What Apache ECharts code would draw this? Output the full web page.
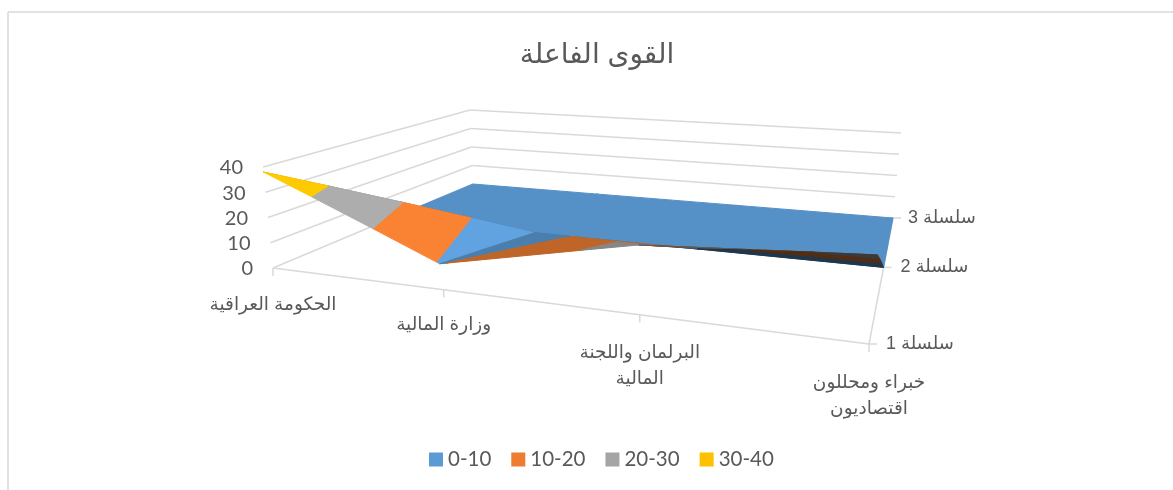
<!DOCTYPE html>
<html>
<head>
<meta charset="utf-8">
<style>
  html, body { margin: 0; background: #fff; }
  #chart { width: 1173px; height: 490px; }
</style>
<script src="https://cdn.jsdelivr.net/npm/echarts@6/dist/echarts.min.js"></script>
</head>
<body>
<div id="chart"></div>
<script>
const categories = ['الحكومة العراقية', 'وزارة المالية', 'البرلمان واللجنة\nالمالية', 'خبراء ومحللون\nاقتصاديون']
const seriesNames = ['سلسلة 1', 'سلسلة 2', 'سلسلة 3']
const series1 = [38, 9.5, 24, 28.5]
const series2 = [0, 0, 0, 0]
const series3 = [0, 0, 0, 0]
const rows = [series1, series2, series3]
const valueTicks = [0, 10, 20, 30, 40]
const bands = ['0-10', '10-20', '20-30', '30-40']
const bandColors = ['#5b9bd5', '#ed7d31', '#a5a5a5', '#ffc000']
const valueMax = 40

// surface triangles as [row, category] triples, painted in this order, with a light factor
const facets = [
  { v: [[1, 0], [2, 0], [2, 1]], shade: 0.93 },
  { v: [[1, 0], [2, 1], [1, 1]], shade: 0.93 },
  { v: [[1, 1], [2, 1], [2, 2]], shade: 0.93 },
  { v: [[1, 1], [2, 2], [1, 2]], shade: 0.93 },
  { v: [[1, 2], [2, 2], [2, 3]], shade: 0.93 },
  { v: [[1, 2], [2, 3], [1, 3]], shade: 0.93 },
  { v: [[0, 0], [1, 1], [1, 0]], shade: 0.8 },
  { v: [[0, 0], [0, 1], [1, 1]], shade: 1.05 },
  { v: [[0, 1], [1, 1], [0, 2]], shade: 0.81 },
  { v: [[1, 1], [1, 2], [0, 2]], shade: 0.81 },
  { v: [[0, 2], [1, 2], [0, 3]], shade: 0.55 },
  { v: [[1, 2], [1, 3], [0, 3]], shade: 0.35 },
]

// box corners on the page: floor and top, order front-left, front-right, back-right, back-left
const floorQuad = [[273, 268], [869, 344], [893, 218], [473, 184]]
const topQuad = [[263, 167], [881, 219], [901, 133], [470, 110]]

function quadMap(q) {
  const [[x0, y0], [x1, y1], [x2, y2], [x3, y3]] = q
  const dx1 = x1 - x2, dx2 = x3 - x2, sx = x0 - x1 + x2 - x3
  const dy1 = y1 - y2, dy2 = y3 - y2, sy = y0 - y1 + y2 - y3
  const d = dx1 * dy2 - dx2 * dy1
  const g = (sx * dy2 - dx2 * sy) / d
  const h = (dx1 * sy - sx * dy1) / d
  return (u, v) => {
    const w = g * u + h * v + 1
    return [
      ((x1 - x0 + g * x1) * u + (x3 - x0 + h * x3) * v + x0) / w,
      ((y1 - y0 + g * y1) * u + (y3 - y0 + h * y3) * v + y0) / w,
    ]
  }
}
const floorAt = quadMap(floorQuad)
const topAt = quadMap(topQuad)

function project(u, v, value) {
  const a = floorAt(u, v)
  const b = topAt(u, v)
  const t = value / valueMax
  return [a[0] + (b[0] - a[0]) * t, a[1] + (b[1] - a[1]) * t]
}

function clipBelow(poly, limit, sign) {
  const out = []
  poly.forEach((p, i) => {
    const q = poly[(i + 1) % poly.length]
    const dp = (limit - p[2]) * sign
    const dq = (limit - q[2]) * sign
    if (dp >= 0) out.push(p)
    if (dp * dq < 0) {
      const t = dp / (dp - dq)
      out.push([p[0] + (q[0] - p[0]) * t, p[1] + (q[1] - p[1]) * t, limit])
    }
  })
  return out
}

function bandPolygon(facet, lo, hi) {
  let poly = facet.v.map(([r, c]) => [c / (categories.length - 1), r / (rows.length - 1), rows[r][c]])
  poly = clipBelow(poly, hi, 1)
  if (poly.length) poly = clipBelow(poly, lo, -1)
  return poly
}

function shadeColor(hex, k) {
  const n = parseInt(hex.slice(1), 16)
  const ch = [n >> 16, (n >> 8) & 255, n & 255].map(x => Math.min(255, Math.round(x * k)))
  return `rgb(${ch.join(',')})`
}

const gridColor = '#d9d9d9'
const textColor = '#595959'
const arabicFont = '"Liberation Sans", "DejaVu Sans", sans-serif'

function renderFrame(params, api) {
  const children = []
  const line = (a, b) => {
    const p = api.coord(a), q = api.coord(b)
    children.push({
      type: 'line',
      shape: { x1: p[0], y1: p[1], x2: q[0], y2: q[1] },
      style: { stroke: gridColor, lineWidth: 1.5 },
    })
  }
  const text = (s, at, font, align) => {
    const p = api.coord(at)
    children.push({
      type: 'text',
      style: { text: s, x: p[0], y: p[1], font, fill: textColor, align, verticalAlign: 'middle', lineHeight: 26 },
    })
  }

  // walls
  valueTicks.forEach(val => {
    line(project(0, 0, val), project(0, 1, val))
    if (val > 0) line(project(0, 1, val), project(1, 1, val))
    const at = project(0, 0, val)
    text(String(val), [at[0] - 20, at[1] + 1], '20px Lato, Carlito, sans-serif', 'right')
  })

  // floor edges, ticks and labels
  line(project(0, 0, 0), project(1, 0, 0))
  line(project(1, 0, 0), project(1, 1, 0))
  const catOffsets = [[0, 37], [3, 36], [3, 52], [0, 52]]
  categories.forEach((cat, i) => {
    const at = project(i / (categories.length - 1), 0, 0)
    const tickX = at[0] + (i === 1 || i === 2 ? 3 : 0)
    line([tickX, at[1]], [tickX, at[1] + 8])
    text(cat, [at[0] + catOffsets[i][0], at[1] + catOffsets[i][1]], '18.5px ' + arabicFont, 'center')
  })
  seriesNames.forEach((name, i) => {
    const at = project(1, i / (seriesNames.length - 1), 0)
    line(at, [at[0] + 8, at[1]])
    text(name, [at[0] + 17 - (i === 2 ? 2 : 0), at[1]], '18px ' + arabicFont, 'left')
  })

  // outer border of the chart area
  line([8, 490], [8, 12])
  line([8, 12], [1173, 12])
  return { type: 'group', children }
}

function bandRenderer(b) {
  const lo = b * 10, hi = lo + 10
  return (params, api) => {
    const facet = facets[params.dataIndex]
    const poly = bandPolygon(facet, lo, hi)
    if (poly.length < 3) return null
    const fill = shadeColor(bandColors[b], facet.shade)
    return {
      type: 'polygon',
      z2: params.dataIndex * 10 + b,
      shape: { points: poly.map(p => api.coord(project(p[0], p[1], p[2]))) },
      style: { fill, stroke: fill, lineWidth: 1 },
    }
  }
}

const chart = echarts.init(document.getElementById('chart'))
chart.setOption({
  animation: false,
  backgroundColor: '#fff',
  textStyle: { fontFamily: arabicFont },
  title: {
    text: 'القوى الفاعلة',
    left: 592,
    top: 36,
    textAlign: 'center',
    textStyle: { color: textColor, fontWeight: 'normal', fontSize: 28, fontFamily: arabicFont },
  },
  legend: {
    data: bands,
    left: 424,
    top: 444,
    icon: 'rect',
    itemWidth: 14,
    itemHeight: 14,
    itemGap: 20,
    selectedMode: false,
    textStyle: { color: textColor, fontSize: 20.5, fontFamily: 'Lato, Carlito, sans-serif' },
  },
  grid: { left: 0, right: 0, top: 0, bottom: 0 },
  xAxis: { type: 'value', min: 0, max: 1173, show: false },
  yAxis: { type: 'value', min: 0, max: 490, inverse: true, show: false },
  series: [
    { type: 'custom', name: 'frame', silent: true, clip: false, data: [0], renderItem: renderFrame, z: 1 },
    ...bands.map((name, b) => ({
      type: 'custom',
      name,
      silent: true,
      clip: false,
      z: 2,
      itemStyle: { color: bandColors[b] },
      data: facets.map((f, i) => i),
      renderItem: bandRenderer(b),
    })),
  ],
})
</script>
</body>
</html>
